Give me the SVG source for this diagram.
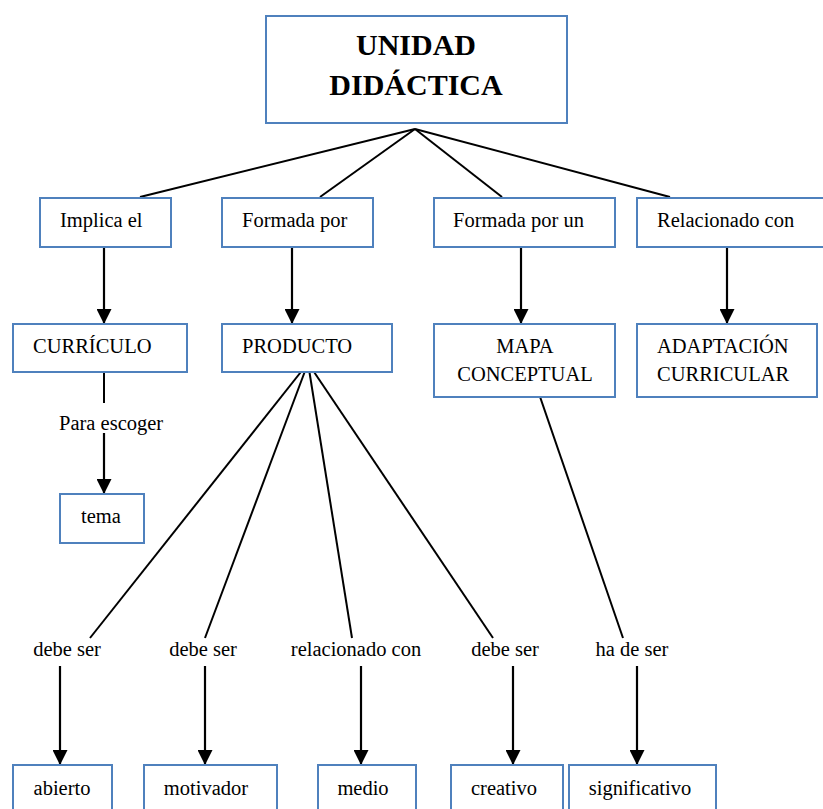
<svg xmlns="http://www.w3.org/2000/svg" width="823" height="809" viewBox="0 0 823 809">
<style>
.box{fill:#fff;stroke:#4F81BD;stroke-width:2}
.t{font-family:"Liberation Serif","Times New Roman",serif;font-size:20.5px;fill:#000}
.title{font-family:"Liberation Serif","Times New Roman",serif;font-size:30px;font-weight:bold;fill:#000}
.ln{stroke:#000;stroke-width:2;fill:none}
.ar{stroke:#000;stroke-width:2.2;fill:none;marker-end:url(#ah)}
</style>
<defs>
<marker id="ah" markerUnits="userSpaceOnUse" markerWidth="15" markerHeight="15" refX="15" refY="7.5" orient="auto">
<path d="M0,0 L15,7.5 L0,15 z" fill="#000"/>
</marker>
</defs>
<rect width="823" height="809" fill="#fff"/>
<g id="connectors">
<line class="ln" x1="415" y1="129" x2="140" y2="197"/>
<line class="ln" x1="415" y1="129" x2="320" y2="197"/>
<line class="ln" x1="415" y1="129" x2="502" y2="197"/>
<line class="ln" x1="415" y1="129" x2="670" y2="197"/>
<line class="ar" x1="104" y1="237" x2="104" y2="324"/>
<line class="ar" x1="292" y1="237" x2="292" y2="324"/>
<line class="ar" x1="521" y1="237" x2="521" y2="324"/>
<line class="ar" x1="727" y1="237" x2="727" y2="324"/>
<line class="ln" x1="104" y1="362" x2="104" y2="403"/>
<line class="ar" x1="104" y1="433" x2="104" y2="494"/>
<line class="ln" x1="308" y1="363" x2="90" y2="638"/>
<line class="ln" x1="308" y1="363" x2="205" y2="638"/>
<line class="ln" x1="308" y1="363" x2="352" y2="638"/>
<line class="ln" x1="308" y1="363" x2="493" y2="638"/>
<line class="ln" x1="537" y1="388" x2="623" y2="638"/>
<line class="ar" x1="60" y1="666" x2="60" y2="765"/>
<line class="ar" x1="205" y1="666" x2="205" y2="765"/>
<line class="ar" x1="361" y1="666" x2="361" y2="765"/>
<line class="ar" x1="513" y1="666" x2="513" y2="765"/>
<line class="ar" x1="637" y1="666" x2="637" y2="765"/>
</g>
<g id="unidad">
<rect class="box" x="266" y="16" width="301" height="107"/>
<text class="title" x="416" y="55" text-anchor="middle">UNIDAD</text>
<text class="title" x="416" y="95" text-anchor="middle">DIDÁCTICA</text>
</g>
<g id="implica">
<rect class="box" x="40" y="198" width="131" height="49"/>
<text class="t" x="60" y="227">Implica el</text>
</g>
<g id="formada">
<rect class="box" x="222" y="198" width="151" height="49"/>
<text class="t" x="242" y="227">Formada por</text>
</g>
<g id="formadaun">
<rect class="box" x="434" y="198" width="181" height="49"/>
<text class="t" x="453" y="227">Formada por un</text>
</g>
<g id="relacionado">
<rect class="box" x="637" y="198" width="200" height="49"/>
<text class="t" x="657" y="227">Relacionado con</text>
</g>
<g id="curriculo">
<rect class="box" x="13" y="324" width="174" height="48"/>
<text class="t" x="33" y="353">CURRÍCULO</text>
</g>
<g id="producto">
<rect class="box" x="222" y="324" width="170" height="48"/>
<text class="t" x="242" y="353">PRODUCTO</text>
</g>
<g id="mapa">
<rect class="box" x="434" y="324" width="181" height="73"/>
<text class="t" x="525" y="353" text-anchor="middle">MAPA</text>
<text class="t" x="525" y="381" text-anchor="middle">CONCEPTUAL</text>
</g>
<g id="adaptacion">
<rect class="box" x="637" y="324" width="180" height="73"/>
<text class="t" x="657" y="353">ADAPTACIÓN</text>
<text class="t" x="657" y="381">CURRICULAR</text>
</g>
<g id="para">
<text class="t" x="59" y="430">Para escoger</text>
</g>
<g id="tema">
<rect class="box" x="60" y="494" width="84" height="49"/>
<text class="t" x="101" y="523" text-anchor="middle">tema</text>
</g>
<g id="labels">
<text class="t" x="67" y="656" text-anchor="middle">debe ser</text>
<text class="t" x="203" y="656" text-anchor="middle">debe ser</text>
<text class="t" x="356" y="656" text-anchor="middle">relacionado con</text>
<text class="t" x="505" y="656" text-anchor="middle">debe ser</text>
<text class="t" x="632" y="656" text-anchor="middle">ha de ser</text>
</g>
<g id="abierto">
<rect class="box" x="13" y="765" width="99" height="60"/>
<text class="t" x="62" y="795" text-anchor="middle">abierto</text>
</g>
<g id="motivador">
<rect class="box" x="144" y="765" width="133" height="60"/>
<text class="t" x="206" y="795" text-anchor="middle">motivador</text>
</g>
<g id="medio">
<rect class="box" x="318" y="765" width="98" height="60"/>
<text class="t" x="363" y="795" text-anchor="middle">medio</text>
</g>
<g id="creativo">
<rect class="box" x="451" y="765" width="112" height="60"/>
<text class="t" x="504" y="795" text-anchor="middle">creativo</text>
</g>
<g id="significativo">
<rect class="box" x="569" y="765" width="147" height="60"/>
<text class="t" x="640" y="795" text-anchor="middle">significativo</text>
</g>
</svg>
